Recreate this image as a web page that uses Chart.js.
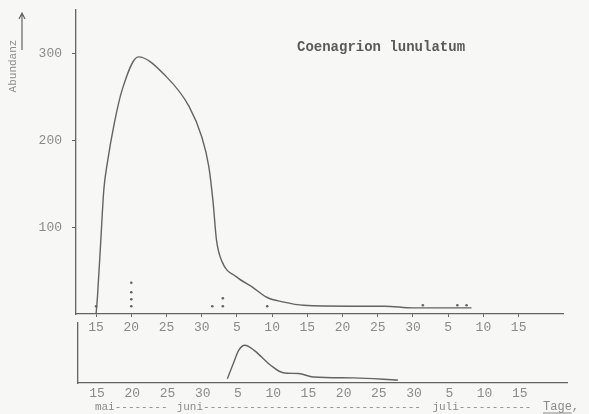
<!DOCTYPE html>
<html>
<head>
<meta charset="utf-8">
<script src="https://cdn.jsdelivr.net/npm/chart.js"></script>
<style>
  html, body { margin: 0; padding: 0; background: #f7f7f5; }
  #wrap { position: relative; width: 589px; height: 414px; overflow: hidden; }
  canvas { position: absolute; left: 0; }
</style>
</head>
<body>
<div id="wrap">
  <canvas id="mainChart" width="589" height="340" style="top:0"></canvas>
  <canvas id="sideChart" width="589" height="94" style="top:320px"></canvas>
</div>
<script>
// Days counted from 15 May, axis labelled every 5 days
const xTickDays = [0, 5, 10, 15, 20, 25, 30, 35, 40, 45, 50, 55, 60];
const xTickLabels = ['15', '20', '25', '30', '5', '10', '15', '20', '25', '30', '5', '10', '15'];
const yTickValues = [100, 200, 300];

// Main curve (Abundanz)
const mainDays = [0, 0.2, 0.7, 1.1, 1.6, 2.6, 3.7, 6, 10, 13.2, 15, 16, 16.6, 17.1, 17.9, 19.9, 22.2, 24.3, 26.5, 29.5, 36, 41, 45, 53.3];
const mainAbund = [0, 20, 89, 143, 174, 220, 258, 296, 273, 239, 204, 170, 130, 85, 60, 43, 31, 19, 14, 10, 9, 9, 7, 7];

// Single observations (dots)
const dotDays = [0, 5, 5, 5, 5, 16.5, 18, 18, 24.3, 46.4, 51.3, 52.6];
const dotAbund = [9, 36, 25, 17, 9, 9, 18, 9, 9, 10, 10, 10];

// Lower panel curve
const sideDays = [18.5, 19.4, 20.1, 21, 22.3, 23.4, 24.6, 26.4, 28.6, 30.7, 36.4, 42.7];
const sideAbund = [5, 24, 38, 44, 38, 30, 21, 12, 11, 7, 6, 3.5];

// Month line
const monthNames = ['mai', 'juni', 'juli'];
const monthStartDays = [-0.3, 11.3, 47.6];
const unitLabel = 'Tage';
const unitDay = 63.3;

const lineColor = '#636363';
const textColor = '#8a8a8a';
const mono = '"Liberation Mono", "DejaVu Sans Mono", monospace';

function pts(xs, ys) {
  return xs.map((x, i) => ({ x: x, y: ys[i] }));
}

function noPad(s) {
  s.paddingTop = 0;
  s.paddingBottom = 0;
  s.paddingLeft = 0;
  s.paddingRight = 0;
}

const mainNotes = {
  id: 'mainNotes',
  afterDraw(chart) {
    const ctx = chart.ctx;
    ctx.save();
    // title
    ctx.fillStyle = '#5a5a5a';
    ctx.font = 'bold 14px ' + mono;
    ctx.textBaseline = 'middle';
    ctx.fillText('Coenagrion lunulatum', 297, 47);
    // y label rotated
    ctx.fillStyle = textColor;
    ctx.font = '11px ' + mono;
    ctx.translate(13, 66);
    ctx.rotate(-Math.PI / 2);
    ctx.textAlign = 'center';
    ctx.fillText('Abundanz', 0, 0);
    ctx.restore();
    // arrow
    ctx.save();
    ctx.strokeStyle = lineColor;
    ctx.lineWidth = 1.2;
    ctx.beginPath();
    ctx.moveTo(22, 50);
    ctx.lineTo(22, 13);
    ctx.moveTo(19, 19);
    ctx.lineTo(22, 13);
    ctx.lineTo(25, 19);
    ctx.stroke();
    ctx.restore();
  }
};

const monthLine = {
  id: 'monthLine',
  afterDraw(chart) {
    const ctx = chart.ctx;
    const xs = chart.scales.x;
    const y = 87;
    ctx.save();
    ctx.fillStyle = textColor;
    ctx.strokeStyle = textColor;
    ctx.font = '11px ' + mono;
    ctx.textBaseline = 'middle';
    const starts = monthStartDays.map(d => xs.getPixelForValue(d));
    const unitX = xs.getPixelForValue(unitDay);
    const dashW = ctx.measureText('-').width;
    monthNames.forEach((name, i) => {
      const x0 = starts[i];
      const next = i < monthNames.length - 1 ? starts[i + 1] : unitX;
      const w = ctx.measureText(name).width;
      const n = Math.max(0, Math.floor((next - x0 - w) / dashW) - 1);
      ctx.fillText(name + '-'.repeat(n), x0, y);
    });
    ctx.font = '12px ' + mono;
    ctx.fillText(unitLabel + ',', unitX, y);
    const uw = ctx.measureText(unitLabel).width;
    ctx.lineWidth = 1;
    ctx.beginPath();
    ctx.moveTo(unitX, y + 6);
    ctx.lineTo(unitX + uw, y + 6);
    ctx.stroke();
    ctx.restore();
  }
};

function xScale(min, max, tickLen, pad, height) {
  return {
    type: 'linear',
    min: min,
    max: max,
    afterBuildTicks: s => { s.ticks = xTickDays.map(v => ({ value: v })); },
    afterFit: s => { s.height = height; noPad(s); },
    ticks: {
      autoSkip: false,
      maxRotation: 0,
      padding: pad,
      color: textColor,
      font: { family: mono, size: 13 },
      callback: (v, i) => xTickLabels[i]
    },
    grid: { display: tickLen > 0, drawOnChartArea: false, tickLength: tickLen, color: lineColor },
    border: { display: true, color: lineColor, width: 1.3 }
  };
}

new Chart(document.getElementById('mainChart'), {
  type: 'line',
  data: {
    datasets: [
      {
        data: pts(mainDays, mainAbund),
        borderColor: lineColor,
        borderWidth: 1.4,
        pointRadius: 0,
        cubicInterpolationMode: 'monotone',
        fill: false
      },
      {
        type: 'scatter',
        data: pts(dotDays, dotAbund),
        backgroundColor: lineColor,
        borderWidth: 0,
        pointRadius: 1.3
      }
    ]
  },
  options: {
    responsive: false,
    animation: false,
    devicePixelRatio: 1,
    layout: { padding: { top: 10, right: 26, left: 0, bottom: 0 } },
    plugins: { legend: { display: false }, tooltip: { enabled: false } },
    scales: {
      x: xScale(-2.85, 66.3, 3, 3, 26),
      y: {
        min: 0,
        max: 350,
        afterBuildTicks: s => { s.ticks = yTickValues.map(v => ({ value: v })); },
        afterFit: s => { s.width = 76; noPad(s); },
        ticks: { padding: 10, color: textColor, font: { family: mono, size: 13 } },
        grid: { display: true, drawOnChartArea: false, tickLength: 4, color: lineColor },
        border: { display: true, color: lineColor, width: 1.3 }
      }
    }
  },
  plugins: [mainNotes]
});

new Chart(document.getElementById('sideChart'), {
  type: 'line',
  data: {
    datasets: [
      {
        data: pts(sideDays, sideAbund),
        borderColor: lineColor,
        borderWidth: 1.4,
        pointRadius: 0,
        cubicInterpolationMode: 'monotone',
        fill: false
      }
    ]
  },
  options: {
    responsive: false,
    animation: false,
    devicePixelRatio: 1,
    layout: { padding: { top: 3, right: 22, left: 0, bottom: 0 } },
    plugins: { legend: { display: false }, tooltip: { enabled: false } },
    scales: {
      x: xScale(-2.7, 66.7, 0, 3, 31),
      y: {
        min: 0,
        max: 70,
        afterFit: s => { s.width = 78; noPad(s); },
        ticks: { display: false },
        grid: { display: false },
        border: { display: true, color: lineColor, width: 1.3 }
      }
    }
  },
  plugins: [monthLine]
});
</script>
</body>
</html>
